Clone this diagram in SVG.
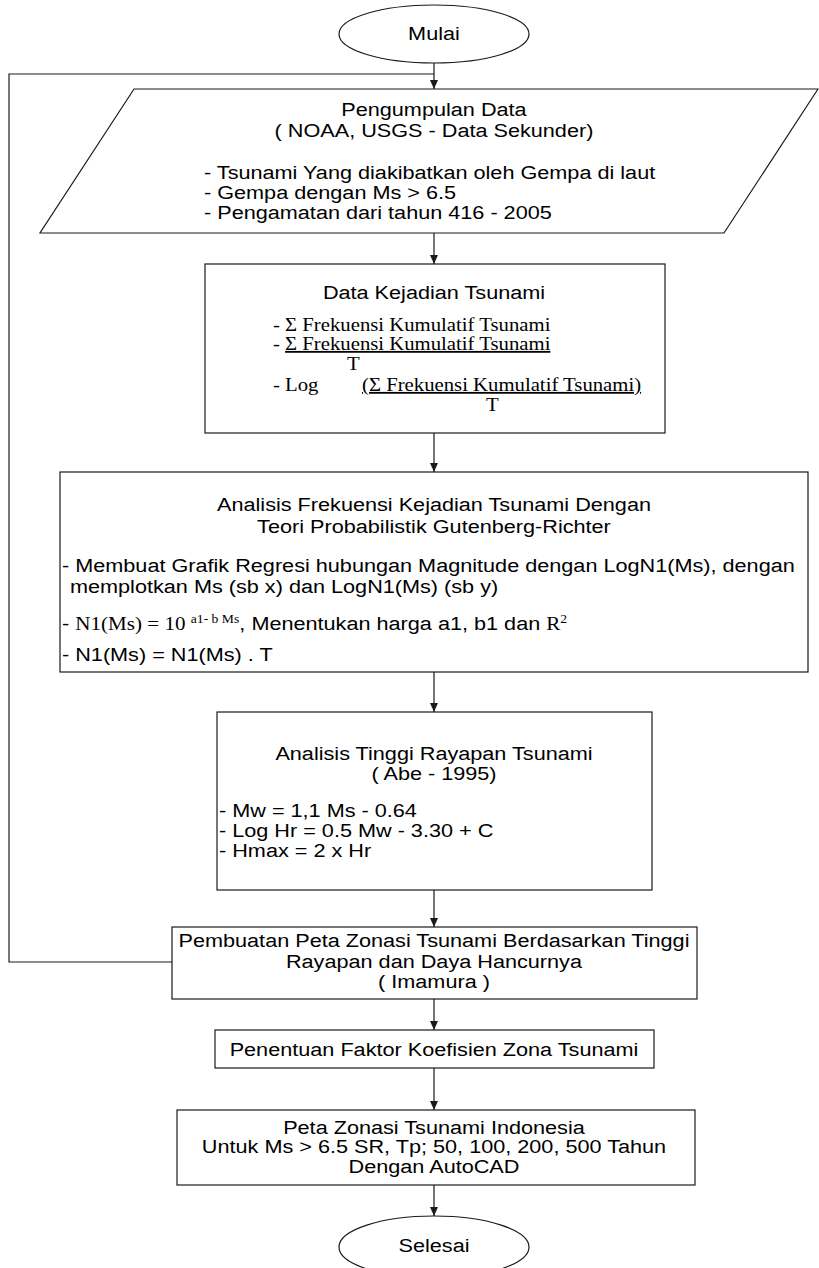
<svg xmlns="http://www.w3.org/2000/svg" width="819" height="1268" viewBox="0 0 819 1268">
<style>
.s{fill:none;stroke:#1a1a1a;stroke-width:1.2}
.b{fill:#fff;stroke:#1a1a1a;stroke-width:1.2}
.t{font-family:"Liberation Sans",Arial,sans-serif;font-size:19px;fill:#000;transform:scale(1.14,1);transform-box:fill-box;transform-origin:0 0}
.tr{font-family:"Liberation Serif","Times New Roman",serif;font-size:18.2px;fill:#000;transform:scale(1.14,1);transform-box:fill-box;transform-origin:0 0}
.c{text-anchor:middle;transform-origin:50% 0}
.sf{font-family:"Liberation Serif","Times New Roman",serif;font-size:18.5px}
.sup{font-family:"Liberation Serif","Times New Roman",serif;font-size:12px}
</style>
<defs>
<marker id="ar" markerWidth="10" markerHeight="10" refX="9" refY="5" orient="auto" markerUnits="userSpaceOnUse">
<path d="M0,1 L9,5 L0,9 Z" fill="#1a1a1a"/>
</marker>
</defs>
<rect width="819" height="1268" fill="#fff"/>
<g id="connectors">
<line class="s" x1="434" y1="63" x2="434" y2="89" marker-end="url(#ar)"/>
<polyline class="s" points="172,962 9,962 9,74 434,74"/>
<line class="s" x1="434" y1="233" x2="434" y2="264" marker-end="url(#ar)"/>
<line class="s" x1="434" y1="433" x2="434" y2="472" marker-end="url(#ar)"/>
<line class="s" x1="434" y1="672" x2="434" y2="712" marker-end="url(#ar)"/>
<line class="s" x1="434" y1="890" x2="434" y2="927" marker-end="url(#ar)"/>
<line class="s" x1="434" y1="999" x2="434" y2="1030" marker-end="url(#ar)"/>
<line class="s" x1="434" y1="1068" x2="434" y2="1110" marker-end="url(#ar)"/>
<line class="s" x1="434" y1="1185" x2="434" y2="1216" marker-end="url(#ar)"/>
</g>
<g id="mulai">
<ellipse class="b" cx="434" cy="34" rx="95" ry="29"/>
<text class="t c" x="434" y="40">Mulai</text>
</g>
<g id="pengumpulan">
<polygon class="b" points="134,89 818,89 724,233 40,233"/>
<text class="t c" x="434" y="116">Pengumpulan Data</text>
<text class="t c" x="434" y="137">( NOAA, USGS - Data Sekunder)</text>
<text class="t" x="204" y="179">- Tsunami Yang diakibatkan oleh Gempa di laut</text>
<text class="t" x="204" y="199">- Gempa dengan Ms &gt; 6.5</text>
<text class="t" x="204" y="219">- Pengamatan dari tahun 416 - 2005</text>
</g>
<g id="data-kejadian">
<rect class="b" x="205" y="264" width="460" height="169"/>
<text class="t c" x="434" y="299">Data Kejadian Tsunami</text>
<text class="tr" x="273" y="331">- Σ Frekuensi Kumulatif Tsunami</text>
<text class="tr" x="273" y="350">- <tspan text-decoration="underline">Σ Frekuensi Kumulatif Tsunami</tspan></text>
<text class="tr" x="347" y="370">T</text>
<text class="tr" x="273" y="391">- Log</text>
<text class="tr" x="362" y="391" text-decoration="underline">(Σ Frekuensi Kumulatif Tsunami)</text>
<text class="tr" x="486" y="411">T</text>
</g>
<g id="analisis-frekuensi">
<rect class="b" x="60" y="472" width="748" height="200"/>
<text class="t c" x="434" y="511">Analisis Frekuensi Kejadian Tsunami Dengan</text>
<text class="t c" x="434" y="533">Teori Probabilistik Gutenberg-Richter</text>
<text class="t" x="62" y="572">- Membuat Grafik Regresi hubungan Magnitude dengan LogN1(Ms), dengan</text>
<text class="t" x="70" y="593">memplotkan Ms (sb x) dan LogN1(Ms) (sb y)</text>
<text class="t" x="62" y="630">- <tspan class="sf">N1(Ms) = 10 </tspan><tspan class="sup" dy="-7">a1- b Ms</tspan><tspan dy="7">, Menentukan harga a1, b1 dan </tspan><tspan class="sf">R</tspan><tspan class="sup" dy="-7">2</tspan></text>
<text class="t" x="62" y="661">- N1(Ms) = N1(Ms) . T</text>
</g>
<g id="analisis-tinggi">
<rect class="b" x="217" y="712" width="435" height="178"/>
<text class="t c" x="434" y="760">Analisis Tinggi Rayapan Tsunami</text>
<text class="t c" x="434" y="780">( Abe - 1995)</text>
<text class="t" x="219" y="817">- Mw = 1,1 Ms - 0.64</text>
<text class="t" x="219" y="837">- Log Hr = 0.5 Mw - 3.30 + C</text>
<text class="t" x="219" y="857">- Hmax = 2 x Hr</text>
</g>
<g id="pembuatan-peta">
<rect class="b" x="172" y="927" width="525" height="72"/>
<text class="t c" x="434" y="947">Pembuatan Peta Zonasi Tsunami Berdasarkan Tinggi</text>
<text class="t c" x="434" y="968">Rayapan dan Daya Hancurnya</text>
<text class="t c" x="434" y="988">( Imamura )</text>
</g>
<g id="penentuan">
<rect class="b" x="215" y="1030" width="439" height="38"/>
<text class="t c" x="434" y="1056">Penentuan Faktor Koefisien Zona Tsunami</text>
</g>
<g id="peta-zonasi">
<rect class="b" x="177" y="1110" width="518" height="75"/>
<text class="t c" x="434" y="1134">Peta Zonasi Tsunami Indonesia</text>
<text class="t c" x="434" y="1153">Untuk Ms &gt; 6.5 SR, Tp; 50, 100, 200, 500 Tahun</text>
<text class="t c" x="434" y="1173">Dengan AutoCAD</text>
</g>
<g id="selesai">
<ellipse class="b" cx="434" cy="1247" rx="95" ry="31"/>
<text class="t c" x="434" y="1252">Selesai</text>
</g>
</svg>
